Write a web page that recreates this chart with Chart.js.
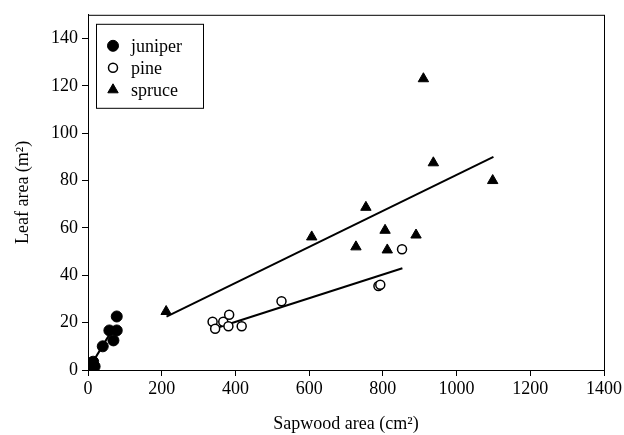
<!DOCTYPE html>
<html>
<head>
<meta charset="utf-8">
<script src="https://cdn.jsdelivr.net/npm/chart.js@4"></script>
<style>
  html, body { margin: 0; padding: 0; background: #fff; }
  #wrap { width: 624px; height: 435px; }
</style>
</head>
<body>
<div id="wrap"><canvas id="c" width="624" height="435"></canvas></div>
<script>
// ── Dados ──
const juniperX = [5, 8, 10, 12, 15, 18, 14, 40, 69, 58, 78, 78];
const juniperY = [1, 2, 3, 1, 2, 1.5, 3.5, 10, 12.5, 16.7, 16.7, 22.6];

const pineX = [338, 345, 367, 383, 381, 417, 525, 788, 793, 852];
const pineY = [20.4, 17.4, 20.4, 23.3, 18.5, 18.5, 29, 35.5, 36, 51];

const spruceX = [212, 607, 727, 754, 806, 812, 890, 910, 937, 1098];
const spruceY = [24.7, 56.2, 52, 68.7, 59, 50.7, 57, 123, 87.5, 80];

// linhas de regressão (extremos lidos)
const juniperFitX = [0, 70];
const juniperFitY = [0, 18];
const pineFitX = [340, 853];
const pineFitY = [17.3, 43];
const spruceFitX = [213, 1100];
const spruceFitY = [22.5, 90];

const xTicks = [0, 200, 400, 600, 800, 1000, 1200, 1400];
const yTicks = [0, 20, 40, 60, 80, 100, 120, 140];

const legendLabels = ['juniper', 'pine', 'spruce'];

const FONT = "'Liberation Serif', 'DejaVu Serif', serif";

const pts = (xs, ys) => xs.map((x, i) => ({ x, y: ys[i] }));

const fitLine = (xs, ys) => ({
  type: 'line',
  data: pts(xs, ys),
  borderColor: '#000',
  borderWidth: 2,
  pointRadius: 0,
  showLine: true,
  fill: false,
});

// ── Moldura e legenda dentro do gráfico ──
const framePlugin = {
  id: 'frame',
  afterDraw(chart) {
    const { ctx, chartArea: a } = chart;
    ctx.save();
    ctx.strokeStyle = '#000';
    ctx.lineWidth = 1;
    ctx.strokeRect(a.left + 0.5, a.top + 0.5, a.right - a.left, a.bottom - a.top);

    // legenda
    const lx = a.left + 8, ly = a.top + 9, lw = 107, lh = 84;
    ctx.fillStyle = '#fff';
    ctx.fillRect(lx, ly, lw, lh);
    ctx.strokeRect(lx + 0.5, ly + 0.5, lw, lh);
    ctx.font = '18px ' + FONT;
    ctx.textBaseline = 'middle';
    legendLabels.forEach((lab, i) => {
      const ds = chart.data.datasets[i];
      const yy = ly + 22 + i * 22;
      ctx.fillStyle = ds.backgroundColor;
      ctx.strokeStyle = ds.borderColor;
      ctx.lineWidth = ds.borderWidth;
      Chart.helpers.drawPoint(ctx, {
        pointStyle: ds.pointStyle,
        radius: ds.pointRadius,
        borderWidth: ds.borderWidth,
      }, lx + 17, yy);
      ctx.fillStyle = '#000';
      ctx.fillText(lab, lx + 35, yy + 1);
    });
    ctx.restore();
  },
};

new Chart(document.getElementById('c'), {
  type: 'scatter',
  data: {
    datasets: [
      {
        label: 'juniper',
        data: pts(juniperX, juniperY),
        pointStyle: 'circle',
        pointRadius: 5.5,
        backgroundColor: '#000',
        borderColor: '#000',
        borderWidth: 1,
      },
      {
        label: 'pine',
        data: pts(pineX, pineY),
        pointStyle: 'circle',
        pointRadius: 4.5,
        backgroundColor: '#fff',
        borderColor: '#000',
        borderWidth: 1.5,
      },
      {
        label: 'spruce',
        data: pts(spruceX, spruceY),
        pointStyle: 'triangle',
        pointRadius: 6,
        backgroundColor: '#000',
        borderColor: '#000',
        borderWidth: 1,
      },
      fitLine(juniperFitX, juniperFitY),
      fitLine(pineFitX, pineFitY),
      fitLine(spruceFitX, spruceFitY),
    ],
  },
  options: {
    responsive: false,
    animation: false,
    layout: { padding: { top: 10, right: 20, left: 0, bottom: 0 } },
    plugins: {
      legend: { display: false },
      tooltip: { enabled: false },
    },
    scales: {
      x: {
        type: 'linear',
        min: 0,
        max: 1400,
        afterBuildTicks: s => { s.ticks = xTicks.map(v => ({ value: v })); },
        afterFit: s => { s.height = 65; },
        grid: { drawOnChartArea: false, drawTicks: true, tickLength: 6, color: '#000' },
        border: { color: '#000', width: 1 },
        ticks: {
          color: '#000', font: { family: FONT, size: 18 }, padding: 2, maxRotation: 0,
          callback: v => String(v),
        },
        title: {
          display: true,
          text: 'Sapwood area (cm²)',
          color: '#000',
          font: { family: FONT, size: 18 },
          padding: { top: 10, bottom: 0 },
        },
      },
      y: {
        type: 'linear',
        min: 0,
        max: 150,
        afterBuildTicks: s => { s.ticks = yTicks.map(v => ({ value: v })); },
        afterFit: s => { s.width = 88; },
        grid: { drawOnChartArea: false, drawTicks: true, tickLength: 6, color: '#000' },
        border: { color: '#000', width: 1 },
        ticks: {
          color: '#000', font: { family: FONT, size: 18 }, padding: 4,
          callback: v => String(v),
        },
        title: {
          display: true,
          text: 'Leaf area (m²)',
          color: '#000',
          font: { family: FONT, size: 18 },
          padding: { top: 12, bottom: 6 },
        },
      },
    },
  },
  plugins: [framePlugin],
});
</script>
</body>
</html>
